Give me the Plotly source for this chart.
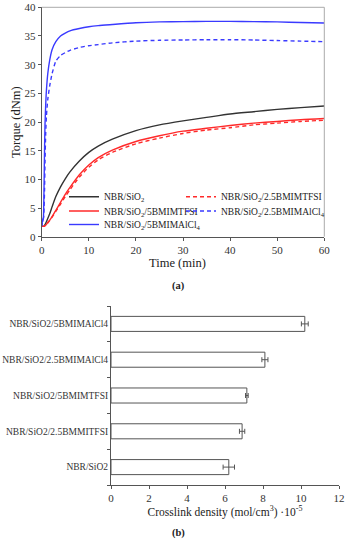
import plotly.graph_objects as go

# ---- (a) cure curves ----
time_min = [0, 0.1, 0.2, 0.3, 0.4, 0.5, 0.6, 0.7, 0.85, 1, 1.3, 1.7, 2.2, 3, 4, 5, 6, 8, 10, 12,
            15, 20, 25, 30, 35, 40, 45, 50, 55, 60]
torque_nbr_sio2 = [1.9, 1.85, 1.8, 1.8, 1.8, 1.85, 1.95, 2.1, 2.35, 2.6, 3.2, 4.0, 5.2, 7.0, 8.7, 10.1,
                   11.3, 13.2, 14.7, 15.8, 17.0, 18.5, 19.5, 20.2, 20.8, 21.4, 21.8, 22.2, 22.5, 22.8]
torque_5tfsi = [1.9, 1.85, 1.8, 1.8, 1.8, 1.8, 1.85, 1.9, 2.0, 2.15, 2.5, 2.9, 3.5, 4.6, 6.0, 7.4,
                8.6, 10.8, 12.5, 13.8, 15.1, 16.6, 17.6, 18.4, 18.9, 19.4, 19.8, 20.1, 20.4, 20.6]
torque_25tfsi = [1.9, 1.85, 1.8, 1.8, 1.8, 1.8, 1.85, 1.9, 2.0, 2.1, 2.4, 2.8, 3.4, 4.4, 5.7, 7.0,
                 8.2, 10.4, 12.1, 13.4, 14.7, 16.2, 17.2, 18.0, 18.6, 19.0, 19.5, 19.8, 20.1, 20.3]
torque_5alcl4 = [1.8, 2.5, 3.0, 2.7, 4.0, 9.0, 15.0, 19.5, 23.0, 25.5, 28.5, 30.8, 32.6, 34.0, 35.0,
                 35.5, 35.9, 36.3, 36.6, 36.8, 37.0, 37.3, 37.45, 37.5, 37.55, 37.55, 37.5, 37.45,
                 37.35, 37.25]
torque_25alcl4 = [1.8, 2.3, 2.9, 3.1, 3.3, 5.0, 8.0, 13.0, 18.0, 21.0, 24.0, 26.3, 28.4, 30.6, 31.6,
                  32.1, 32.5, 33.0, 33.3, 33.5, 33.8, 34.1, 34.25, 34.3, 34.35, 34.35, 34.3, 34.2,
                  34.1, 34.0]

# ---- (b) crosslink density ----
samples = ["NBR/SiO2", "NBR/SiO2/2.5BMMITFSI", "NBR/SiO2/5BMIMTFSI",
           "NBR/SiO2/2.5BMIMAlCl4", "NBR/SiO2/5BMIMAlCl4"]
crosslink = [6.2, 6.9, 7.15, 8.1, 10.2]
crosslink_err = [0.3, 0.14, 0.07, 0.16, 0.18]

SERIF = "Liberation Serif"
AX = "#555555"
W, H = 352, 550

fig = go.Figure()

# each legend entry gets its own small legend box: (name, data, colour, dash, legend id, col, row)
curves = [
    ("NBR/SiO<sub>2</sub>", torque_nbr_sio2, "#333333", "solid", "legend", 0, 0),
    ("NBR/SiO<sub>2</sub>/5BMIMTFSI", torque_5tfsi, "#ff2a2a", "solid", "legend2", 0, 1),
    ("NBR/SiO<sub>2</sub>/5BMIMAlCl<sub>4</sub>", torque_5alcl4, "#3a3aff", "solid", "legend3", 0, 2),
    ("NBR/SiO<sub>2</sub>/2.5BMIMTFSI", torque_25tfsi, "#ff2a2a", "4px,3px", "legend4", 1, 0),
    ("NBR/SiO<sub>2</sub>/2.5BMIMAlCl<sub>4</sub>", torque_25alcl4, "#3a3aff", "4px,3px", "legend5", 1, 1),
]
for name, ys, col, dash, lg, c, r in curves:
    fig.add_trace(go.Scatter(x=time_min, y=ys, name=name, mode="lines",
                             line=dict(color=col, width=1.4, dash=dash, shape="spline", smoothing=0.6),
                             legend=lg, xaxis="x", yaxis="y"))

fig.add_trace(go.Bar(y=samples, x=crosslink, orientation="h", width=0.42,
                     marker=dict(color="white", line=dict(color=AX, width=1)),
                     error_x=dict(type="data", array=crosslink_err, color=AX, thickness=1, width=2.5),
                     showlegend=False, xaxis="x2", yaxis="y2"))

tickfont = dict(family=SERIF, size=11, color="#333333")
titlefont = dict(family=SERIF, size=12.5, color="#222222")

col_x = [64, 181]
row_y = [196.7, 211, 224.5]
legends = {}
for name, ys, col, dash, lg, c, r in curves:
    legends[lg] = dict(x=col_x[c] / W, y=1 - row_y[r] / H, xanchor="left", yanchor="middle",
                       bgcolor="rgba(0,0,0,0)", font=dict(family=SERIF, size=9.5, color="#222222"),
                       itemwidth=30, tracegroupgap=0)

fig.update_layout(
    width=W, height=H, margin=dict(l=0, r=0, t=0, b=0, autoexpand=False),
    paper_bgcolor="white", plot_bgcolor="white",
    font=dict(family=SERIF),
    xaxis=dict(domain=[41.7 / W, 324.3 / W], range=[0, 60], tickvals=[0, 10, 20, 30, 40, 50, 60],
               showgrid=False, zeroline=False, showline=True, linecolor=AX, linewidth=1,
               ticks="outside", ticklen=3, tickcolor=AX, tickfont=tickfont, automargin=False,
               anchor="y"),
    yaxis=dict(domain=[1 - 236.7 / H, 1 - 7.3 / H], range=[0, 40],
               tickvals=[0, 5, 10, 15, 20, 25, 30, 35, 40],
               showgrid=False, zeroline=False, showline=True, linecolor=AX, linewidth=1,
               ticks="outside", ticklen=3, tickcolor=AX, tickfont=tickfont, automargin=False,
               anchor="x"),
    xaxis2=dict(domain=[111 / W, 339 / W], range=[0, 12], tickvals=[0, 2, 4, 6, 8, 10, 12],
                showgrid=False, zeroline=False, showline=True, linecolor=AX, linewidth=1,
                ticks="outside", ticklen=3, tickcolor=AX, tickfont=tickfont, automargin=True,
                title=dict(text="Crosslink density (mol/cm<sup>3</sup>) ·10<sup>-5</sup>",
                           font=dict(family=SERIF, size=11.5, color="#222222"), standoff=4),
                anchor="y2"),
    yaxis2=dict(domain=[1 - 485 / H, 1 - 306 / H], range=[-0.5, 4.5],
                showgrid=False, zeroline=False, showline=True, linecolor=AX, linewidth=1,
                ticks="outside", ticklen=3, tickcolor=AX, tickson="boundaries", automargin=True,
                tickfont=dict(family=SERIF, size=9.5, color="#333333"), anchor="x2"),
    shapes=[
        dict(type="line", xref="x domain", yref="y domain", x0=0, x1=1, y0=1, y1=1,
             line=dict(color="#aaaaaa", width=1)),
        dict(type="line", xref="x domain", yref="y domain", x0=1, x1=1, y0=0, y1=1,
             line=dict(color="#aaaaaa", width=1)),
    ],
    annotations=[
        dict(text="Time (min)", xref="paper", yref="paper", x=177.7 / W, y=1 - 263 / H,
             xanchor="center", yanchor="middle", showarrow=False, font=titlefont),
        dict(text="Torque (dNm)", xref="paper", yref="paper", x=16 / W, y=1 - 122 / H,
             xanchor="center", yanchor="middle", textangle=-90, showarrow=False, font=titlefont),
        dict(text="<b>(a)</b>", xref="paper", yref="paper", x=178 / W, y=1 - 285.7 / H,
             showarrow=False, font=dict(family=SERIF, size=10.5, color="#222222")),
        dict(text="<b>(b)</b>", xref="paper", yref="paper", x=178 / W, y=1 - 541 / H,
             showarrow=False, font=dict(family=SERIF, size=10.5, color="#222222")),
    ],
    **legends,
)

fig.write_html("out.html", config={"displayModeBar": False},
               post_script="document.body.style.margin='0';")
